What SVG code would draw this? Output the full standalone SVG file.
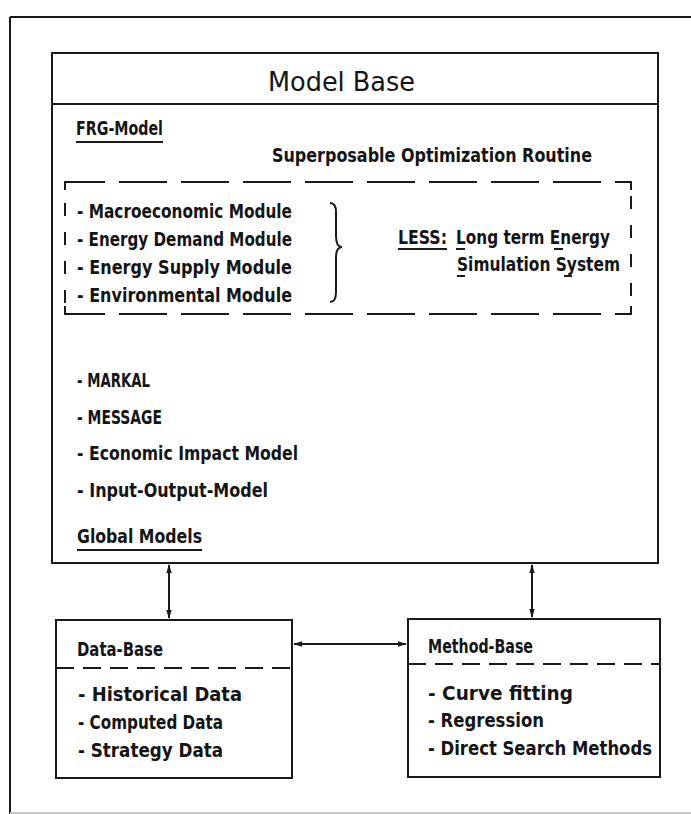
<svg xmlns="http://www.w3.org/2000/svg" width="691" height="814" viewBox="0 0 691 814">
<defs>
<style>
.ln{stroke:#1a1a1a;stroke-width:2;fill:none}
.dh{stroke:#1a1a1a;stroke-width:2;fill:none;stroke-dasharray:48 14}
.dv{stroke:#1a1a1a;stroke-width:2;fill:none;stroke-dasharray:13 16}
.dash2{stroke:#1a1a1a;stroke-width:2;fill:none;stroke-dasharray:18 9}
.t{font-family:"DejaVu Sans Condensed","Liberation Sans Narrow","Liberation Sans",sans-serif;font-weight:bold;font-size:20px;fill:#151515}
.title{font-family:"DejaVu Sans","Liberation Sans",sans-serif;font-size:26px;fill:#151515}
.ul{stroke:#1a1a1a;stroke-width:2}
</style>
<marker id="ah" viewBox="0 0 10 10" refX="9" refY="5" markerWidth="4.5" markerHeight="4.5" orient="auto-start-reverse">
<path d="M0,2 L10,5 L0,8 Z" fill="#1a1a1a"/>
</marker>
</defs>
<rect width="691" height="814" fill="#fff"/>
<g id="frame">
<path class="ln" d="M10,17 H691 M10,17 V814"/>
<path d="M10,813 H691" stroke="#c8c8c8" stroke-width="2"/>
</g>
<g id="model-base">
<rect class="ln" x="52" y="53" width="606" height="510"/>
<line class="ln" x1="52" y1="104" x2="658" y2="104"/>
<text class="title" x="268" y="91" textLength="147" lengthAdjust="spacingAndGlyphs">Model Base</text>
<text class="t" x="76" y="135" textLength="87" lengthAdjust="spacingAndGlyphs">FRG-Model</text>
<line class="ul" x1="76" y1="142" x2="163" y2="142"/>
<text class="t" x="272" y="162" textLength="320" lengthAdjust="spacingAndGlyphs">Superposable Optimization Routine</text>
<g id="less">
<path class="dh" d="M65,190 V182 H631 V190"/>
<path class="dh" d="M65,306 V314 H631 V306"/>
<path class="dv" d="M65,203 V306"/>
<path class="dv" d="M631,196 V306"/>
<text class="t" x="77" y="218" textLength="215" lengthAdjust="spacingAndGlyphs">- Macroeconomic Module</text>
<text class="t" x="77" y="246" textLength="215" lengthAdjust="spacingAndGlyphs">- Energy Demand Module</text>
<text class="t" x="77" y="274" textLength="215" lengthAdjust="spacingAndGlyphs">- Energy Supply Module</text>
<text class="t" x="77" y="302" textLength="215" lengthAdjust="spacingAndGlyphs">- Environmental Module</text>
<path class="ln" d="M330,203 Q336,203 336,212 L336,236 Q336,247 342,247 Q336,247 336,258 L336,292 Q336,302 330,302"/>
<text class="t" x="398" y="244" textLength="49" lengthAdjust="spacingAndGlyphs">LESS:</text>
<line class="ul" x1="398" y1="249" x2="447" y2="249"/>
<text class="t" x="456" y="244" textLength="154" lengthAdjust="spacingAndGlyphs">Long term Energy</text>
<line class="ul" x1="456" y1="249" x2="465" y2="249"/>
<line class="ul" x1="554" y1="249" x2="563" y2="249"/>
<text class="t" x="457" y="271" textLength="163" lengthAdjust="spacingAndGlyphs">Simulation System</text>
<line class="ul" x1="457" y1="276" x2="465" y2="276"/>
<line class="ul" x1="564" y1="276" x2="572" y2="276"/>
</g>
<text class="t" x="77" y="387" textLength="73" lengthAdjust="spacingAndGlyphs">- MARKAL</text>
<text class="t" x="77" y="424" textLength="85" lengthAdjust="spacingAndGlyphs">- MESSAGE</text>
<text class="t" x="77" y="460" textLength="221" lengthAdjust="spacingAndGlyphs">- Economic Impact Model</text>
<text class="t" x="77" y="497" textLength="191" lengthAdjust="spacingAndGlyphs">- Input-Output-Model</text>
<text class="t" x="77" y="543" textLength="125" lengthAdjust="spacingAndGlyphs">Global Models</text>
<line class="ul" x1="77" y1="550" x2="202" y2="550"/>
</g>
<g id="data-base">
<rect class="ln" x="56" y="620" width="236" height="158"/>
<line class="dash2" x1="56" y1="668" x2="292" y2="668"/>
<text class="t" x="77" y="656" textLength="86" lengthAdjust="spacingAndGlyphs">Data-Base</text>
<text class="t" x="78" y="701" textLength="164" lengthAdjust="spacingAndGlyphs">- Historical Data</text>
<text class="t" x="78" y="729" textLength="145" lengthAdjust="spacingAndGlyphs">- Computed Data</text>
<text class="t" x="78" y="757" textLength="145" lengthAdjust="spacingAndGlyphs">- Strategy Data</text>
</g>
<g id="method-base">
<rect class="ln" x="408" y="619" width="252" height="158"/>
<line class="dash2" x1="408" y1="664" x2="660" y2="664"/>
<text class="t" x="428" y="653" textLength="105" lengthAdjust="spacingAndGlyphs">Method-Base</text>
<text class="t" x="428" y="700" textLength="145" lengthAdjust="spacingAndGlyphs">- Curve fitting</text>
<text class="t" x="428" y="727" textLength="116" lengthAdjust="spacingAndGlyphs">- Regression</text>
<text class="t" x="428" y="755" textLength="224" lengthAdjust="spacingAndGlyphs">- Direct Search Methods</text>
</g>
<g id="connectors">
<line class="ln" x1="169" y1="565" x2="169" y2="618" marker-start="url(#ah)" marker-end="url(#ah)"/>
<line class="ln" x1="532" y1="565" x2="532" y2="617" marker-start="url(#ah)" marker-end="url(#ah)"/>
<line class="ln" x1="294" y1="644" x2="406" y2="644" marker-start="url(#ah)" marker-end="url(#ah)"/>
</g>
</svg>
